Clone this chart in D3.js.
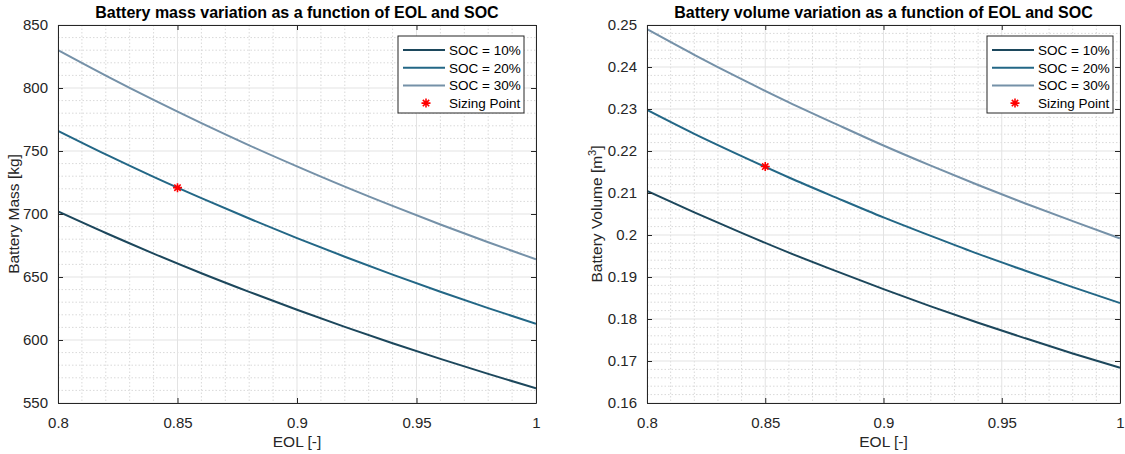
<!DOCTYPE html>
<html>
<head>
<meta charset="utf-8">
<script src="https://cdn.jsdelivr.net/npm/d3@7"></script>
<style>
  html, body { margin: 0; padding: 0; background: #ffffff; }
  svg { display: block; font-family: "Liberation Sans", Arial, Helvetica, sans-serif; }
</style>
</head>
<body>
<svg id="chart" width="1125" height="454"></svg>
<script>
// End-of-life factor (x axis)
const eol = [0.80, 0.82, 0.84, 0.86, 0.88, 0.90, 0.92, 0.94, 0.96, 0.98, 1.00];

// Battery mass [kg] for each state-of-charge reserve
const massSoc10 = [702.0, 684.9, 668.6, 653.0, 638.2, 624.0, 610.4, 597.4, 585.0, 573.1, 561.6];
const massSoc20 = [766.0, 747.3, 729.5, 712.6, 696.4, 680.9, 666.1, 651.9, 638.3, 625.3, 612.8];
const massSoc30 = [830.0, 809.8, 790.5, 772.1, 754.5, 737.8, 721.7, 706.4, 691.7, 677.6, 664.0];

// Battery volume [m^3] for each state-of-charge reserve
const volSoc10 = [0.2105, 0.2054, 0.2005, 0.1958, 0.1914, 0.1871, 0.1830, 0.1791, 0.1754, 0.1718, 0.1684];
const volSoc20 = [0.2298, 0.2241, 0.2188, 0.2137, 0.2089, 0.2042, 0.1998, 0.1955, 0.1915, 0.1876, 0.1838];
const volSoc30 = [0.2490, 0.2429, 0.2371, 0.2316, 0.2264, 0.2213, 0.2165, 0.2119, 0.2075, 0.2033, 0.1992];

// Chosen design point
const sizingEol = 0.85;
const sizingMass = 720.9;
const sizingVol = 0.2163;

const seriesNames = ["SOC = 10%", "SOC = 20%", "SOC = 30%"];
const pointName = "Sizing Point";

// Tick values
const eolTicks = [0.8, 0.85, 0.9, 0.95, 1];
const massTicks = [550, 600, 650, 700, 750, 800, 850];
const volTicks = [0.16, 0.17, 0.18, 0.19, 0.2, 0.21, 0.22, 0.23, 0.24, 0.25];

const lineColors = ["#1c475c", "#236786", "#7591a8"];
const axisColor = "#262626";
const FONT = '"Liberation Sans", Arial, sans-serif';

const svg = d3.select("#chart");

function fmt(v) { return String(+v.toFixed(4)); }

function drawPanel(cfg) {
  const { left, right, top, bottom } = cfg.box;
  const x = d3.scaleLinear().domain([0.8, 1]).range([left, right]);
  const y = d3.scaleLinear().domain(cfg.yDomain).range([bottom, top]);
  const g = svg.append("g");

  // white plot area
  g.append("rect").attr("x", left).attr("y", top)
    .attr("width", right - left).attr("height", bottom - top).attr("fill", "#fff");

  // minor grid (dotted)
  const xMinor = d3.range(0.8, 1.0001, 0.01).map(v => +v.toFixed(3))
    .filter(v => !eolTicks.some(t => Math.abs(t - v) < 1e-9));
  const yMinor = d3.range(cfg.yDomain[0], cfg.yDomain[1] + cfg.yMinor / 2, cfg.yMinor)
    .map(v => +v.toFixed(5))
    .filter(v => !cfg.yTicks.some(t => Math.abs(t - v) < 1e-9));
  g.selectAll(".xminor").data(xMinor).join("line")
    .attr("x1", d => x(d)).attr("x2", d => x(d)).attr("y1", top).attr("y2", bottom)
    .attr("stroke", "#d9d9d9").attr("stroke-width", 1).attr("stroke-dasharray", "1.5,2");
  g.selectAll(".yminor").data(yMinor).join("line")
    .attr("x1", left).attr("x2", right).attr("y1", d => y(d)).attr("y2", d => y(d))
    .attr("stroke", "#d9d9d9").attr("stroke-width", 1).attr("stroke-dasharray", "1.5,2");

  // major grid
  g.selectAll(".xmajor").data(eolTicks).join("line")
    .attr("x1", d => x(d)).attr("x2", d => x(d)).attr("y1", top).attr("y2", bottom)
    .attr("stroke", "#e3e3e3").attr("stroke-width", 1);
  g.selectAll(".ymajor").data(cfg.yTicks).join("line")
    .attr("x1", left).attr("x2", right).attr("y1", d => y(d)).attr("y2", d => y(d))
    .attr("stroke", "#e3e3e3").attr("stroke-width", 1);

  // data curves
  const line = d3.line().x(d => x(d[0])).y(d => y(d[1])).curve(d3.curveMonotoneX);
  const clipId = "clip-" + cfg.id;
  svg.append("clipPath").attr("id", clipId).append("rect")
    .attr("x", left).attr("y", top - 2).attr("width", right - left).attr("height", bottom - top + 4);
  cfg.series.forEach((vals, i) => {
    g.append("path")
      .datum(eol.map((e, k) => [e, vals[k]]))
      .attr("d", line)
      .attr("fill", "none")
      .attr("stroke", lineColors[i])
      .attr("stroke-width", 2)
      .attr("clip-path", `url(#${clipId})`);
  });

  // sizing point marker
  drawStar(g, x(sizingEol), y(cfg.point), 4.5);

  // axes (inward ticks, box on all sides)
  const tick = 5;
  const axB = d3.axisBottom(x).tickValues(eolTicks).tickSizeInner(-tick).tickSizeOuter(0).tickFormat(fmt).tickPadding(14);
  const axT = d3.axisTop(x).tickValues(eolTicks).tickSizeInner(-tick).tickSizeOuter(0).tickFormat("");
  const axL = d3.axisLeft(y).tickValues(cfg.yTicks).tickSizeInner(-tick).tickSizeOuter(0).tickFormat(fmt).tickPadding(10);
  const axR = d3.axisRight(y).tickValues(cfg.yTicks).tickSizeInner(-tick).tickSizeOuter(0).tickFormat("");

  const styleAxis = sel => {
    sel.attr("font-size", null).attr("font-family", null);
    sel.select(".domain").attr("stroke", axisColor).attr("stroke-width", 1);
    sel.selectAll(".tick line").attr("stroke", axisColor).attr("stroke-width", 1);
    sel.selectAll(".tick text").attr("fill", axisColor).style("font-size", "15px")
      .style("font-family", FONT);
  };
  g.append("g").attr("transform", `translate(0,${bottom})`).call(axB).call(styleAxis);
  g.append("g").attr("transform", `translate(0,${top})`).call(axT).call(styleAxis);
  g.append("g").attr("transform", `translate(${left},0)`).call(axL).call(styleAxis);
  g.append("g").attr("transform", `translate(${right},0)`).call(axR).call(styleAxis);

  // title and axis labels
  g.append("text").attr("x", (left + right) / 2).attr("y", top - 7)
    .attr("text-anchor", "middle").attr("font-weight", "bold").attr("font-size", 16)
    .attr("fill", "#000").text(cfg.title);
  g.append("text").attr("x", (left + right) / 2).attr("y", 447)
    .attr("text-anchor", "middle").attr("font-size", 15.5).attr("fill", axisColor).text("EOL [-]");
  const yl = g.append("text")
    .attr("transform", `translate(${cfg.yLabelX},${(top + bottom) / 2}) rotate(-90)`)
    .attr("text-anchor", "middle").attr("font-size", 15.5).attr("fill", axisColor);
  yl.append("tspan").text(cfg.yLabel);
  if (cfg.yLabelSup) {
    yl.append("tspan").attr("dy", -6).attr("font-size", 11).text(cfg.yLabelSup);
    yl.append("tspan").attr("dy", 6).text(cfg.yLabelEnd);
  }

  // legend
  const lg = cfg.legend;
  const lgW = 126, lgH = 77;
  const lgX = right - lg.offset - lgW, lgY = top + 11;
  g.append("rect").attr("x", lgX).attr("y", lgY).attr("width", lgW).attr("height", lgH)
    .attr("fill", "#fff").attr("stroke", "#262626").attr("stroke-width", 1);
  const rowY = i => lgY + 14 + i * 17.7;
  seriesNames.forEach((name, i) => {
    g.append("line").attr("x1", lgX + 5).attr("x2", lgX + 47)
      .attr("y1", rowY(i)).attr("y2", rowY(i))
      .attr("stroke", lineColors[i]).attr("stroke-width", 2);
    g.append("text").attr("x", lgX + 51).attr("y", rowY(i) + 5)
      .attr("font-size", 13.5).attr("fill", "#000").text(name);
  });
  drawStar(g, lgX + 28, rowY(3), 4.5);
  g.append("text").attr("x", lgX + 51).attr("y", rowY(3) + 5)
    .attr("font-size", 13.5).attr("fill", "#000").text(pointName);
}

// eight-armed asterisk marker
function drawStar(g, cx, cy, r) {
  const d = r * Math.SQRT1_2;
  const p = `M${cx - r},${cy}L${cx + r},${cy}M${cx},${cy - r}L${cx},${cy + r}` +
            `M${cx - d},${cy - d}L${cx + d},${cy + d}M${cx - d},${cy + d}L${cx + d},${cy - d}`;
  g.append("path").attr("d", p).attr("stroke", "#ff0000").attr("stroke-width", 1.6).attr("fill", "none");
}

drawPanel({
  id: "mass",
  box: { left: 58, right: 536, top: 25, bottom: 403 },
  yDomain: [550, 850], yTicks: massTicks, yMinor: 10,
  series: [massSoc10, massSoc20, massSoc30], point: sizingMass,
  title: "Battery mass variation as a function of EOL and SOC",
  yLabel: "Battery Mass [kg]", yLabelX: 19,
  legend: { offset: 12 }
});

drawPanel({
  id: "vol",
  box: { left: 647, right: 1120, top: 25, bottom: 403 },
  yDomain: [0.16, 0.25], yTicks: volTicks, yMinor: 0.002,
  series: [volSoc10, volSoc20, volSoc30], point: sizingVol,
  title: "Battery volume variation as a function of EOL and SOC",
  yLabel: "Battery Volume [m", yLabelSup: "3", yLabelEnd: "]", yLabelX: 602,
  legend: { offset: 7 }
});
</script>
</body>
</html>
